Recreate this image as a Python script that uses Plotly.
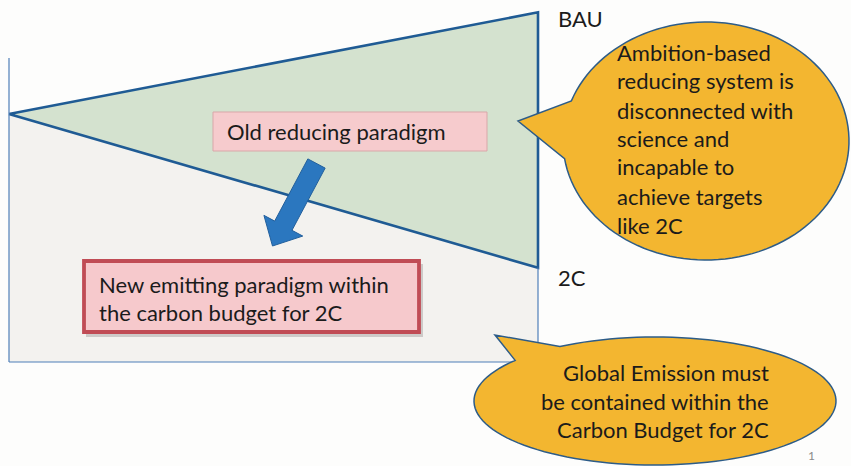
import numpy as np
import plotly.graph_objects as go

# ---- data (conceptual emission pathways) ----
period = [0, 1]                 # start -> target year
bau = [100, 141]                # business as usual emissions
two_c = [100, 38]               # 2C pathway emissions
axis_top = 122.6                # top of the vertical axis line
path_labels = ["BAU", "2C"]

box_old = "Old reducing paradigm"
box_new = ["New emitting paradigm within", "the carbon budget for 2C"]
bubble1_lines = ["Ambition-based", "reducing system is", "disconnected with",
                 "science and", "incapable to", "achieve targets", "like 2C"]
bubble2_lines = ["Global Emission must", "be contained within the",
                 "Carbon Budget for 2C"]
page_no = "1"

W, H = 851, 466
FONT = "Lato"
TXT = "#1b1b1b"


def px(x):
    return x / W


def py(y):
    return 1 - y / H


def path_from_pts(pts):
    s = "M " + " L ".join(f"{px(x):.5f},{py(y):.5f}" for x, y in pts) + " Z"
    return s


def bubble(cx, cy, rx, ry, t_start, t_end, tip):
    t = np.radians(np.linspace(t_start, t_end, 120))
    pts = [(cx + rx * np.cos(a), cy + ry * np.sin(a)) for a in t]
    pts.append(tip)
    return path_from_pts(pts)


fig = go.Figure()

# lower (carbon-budget) region
fig.add_trace(go.Scatter(
    x=[period[0], period[1], period[1], period[0]],
    y=[two_c[0], two_c[1], 0, 0],
    fill="toself", fillcolor="#f3f2ef", mode="lines",
    line=dict(width=0), hoverinfo="skip", showlegend=False))

# wedge between BAU and 2C
fig.add_trace(go.Scatter(
    x=[period[0], period[1], period[1], period[0]],
    y=[bau[0], bau[1], two_c[1], two_c[0]],
    fill="toself", fillcolor="#d4e2cf", mode="lines",
    line=dict(color="#1f5b94", width=2.6), hoverinfo="skip",
    showlegend=False))

shapes = []
# thin axis lines
thin = dict(color="#4f7fb8", width=1.2)
shapes.append(dict(type="line", xref="x", yref="y", x0=period[0], x1=period[0],
                   y0=0, y1=axis_top, line=thin))
shapes.append(dict(type="line", xref="x", yref="y", x0=period[0], x1=period[1],
                   y0=0, y1=0, line=thin))
shapes.append(dict(type="line", xref="x", yref="y", x0=period[1], x1=period[1],
                   y0=0, y1=two_c[1], line=thin))

# old paradigm box
shapes.append(dict(type="rect", xref="paper", yref="paper",
                   x0=px(213), x1=px(487), y0=py(151), y1=py(112),
                   fillcolor="#f6cbcd", line=dict(color="#d9a7a9", width=1)))

# new paradigm box (shadow + box)
shapes.append(dict(type="rect", xref="paper", yref="paper",
                   x0=px(86), x1=px(423), y0=py(337), y1=py(264),
                   fillcolor="rgba(120,110,110,0.30)", line=dict(width=0)))
shapes.append(dict(type="rect", xref="paper", yref="paper",
                   x0=px(84), x1=px(419), y0=py(332), y1=py(261),
                   fillcolor="#f6c9cc", line=dict(color="#c04c55", width=3.8)))

# blue arrow
T = np.array([316.5, 163.5])
P = np.array([272.5, 246.0])
d = P - T
L = np.linalg.norm(d)
u = d / L
n = np.array([-u[1], u[0]])
sw, hw, hl = 9.8, 22.0, 23.0
base = T + (L - hl) * u
arrow_pts = [T + sw * n, base + sw * n, base + hw * n, P,
             base - hw * n, base - sw * n, T - sw * n]
shapes.append(dict(type="path", xref="paper", yref="paper",
                   path=path_from_pts([tuple(p) for p in arrow_pts]),
                   fillcolor="#2b77bf", line=dict(color="#215f9c", width=1)))

# speech bubbles
shapes.append(dict(type="path", xref="paper", yref="paper",
                   path=bubble(706, 141, 143, 119, 199.7, 531.5, (518, 121)),
                   fillcolor="#f3b630", line=dict(color="#2d5c88", width=1.5)))
shapes.append(dict(type="path", xref="paper", yref="paper",
                   path=bubble(655, 401, 181, 64, 238.3, 579.4, (495, 335)),
                   fillcolor="#f3b630", line=dict(color="#2d5c88", width=1.5)))

ann = []


def text(x, y, s, size=22, xanchor="left", color=TXT):
    ann.append(dict(x=px(x), y=py(y), xref="paper", yref="paper", text=s,
                    showarrow=False, xanchor=xanchor, yanchor="middle",
                    font=dict(family=FONT, size=size, color=color)))


text(225, 132, box_old)
for i, s in enumerate(box_new):
    text(97, 284.5 + 28 * i, s)
b1_y = [53, 81, 110, 138, 166, 196, 225]
for s, y in zip(bubble1_lines, b1_y):
    text(615, y, s)
b2_y = [372, 401, 429]
for s, y in zip(bubble2_lines, b2_y):
    text(771, y, s, xanchor="right")
text(556, 18, path_labels[0])
text(556, 277, path_labels[1])
text(811, 455, page_no, size=12, xanchor="center", color="#8a8a8a")

x0, x1 = 9, 538          # pixel positions of period[0], period[1]
y0, y100 = 362, 114      # pixel positions of 0 and 100 emission
sx = (x1 - x0)
sy = (y0 - y100) / 100.0

fig.update_layout(
    width=W, height=H, margin=dict(l=0, r=0, t=0, b=0),
    paper_bgcolor="#fdfdfc", plot_bgcolor="rgba(0,0,0,0)",
    xaxis=dict(range=[-x0 / sx, (W - x0) / sx], visible=False, fixedrange=True),
    yaxis=dict(range=[(y0 - H) / sy, y0 / sy], visible=False, fixedrange=True),
    shapes=shapes, annotations=ann, showlegend=False,
)

fig.write_html("out.html", config={"displayModeBar": False},
               post_script="document.body.style.margin='0';document.body.style.overflow='hidden';")
